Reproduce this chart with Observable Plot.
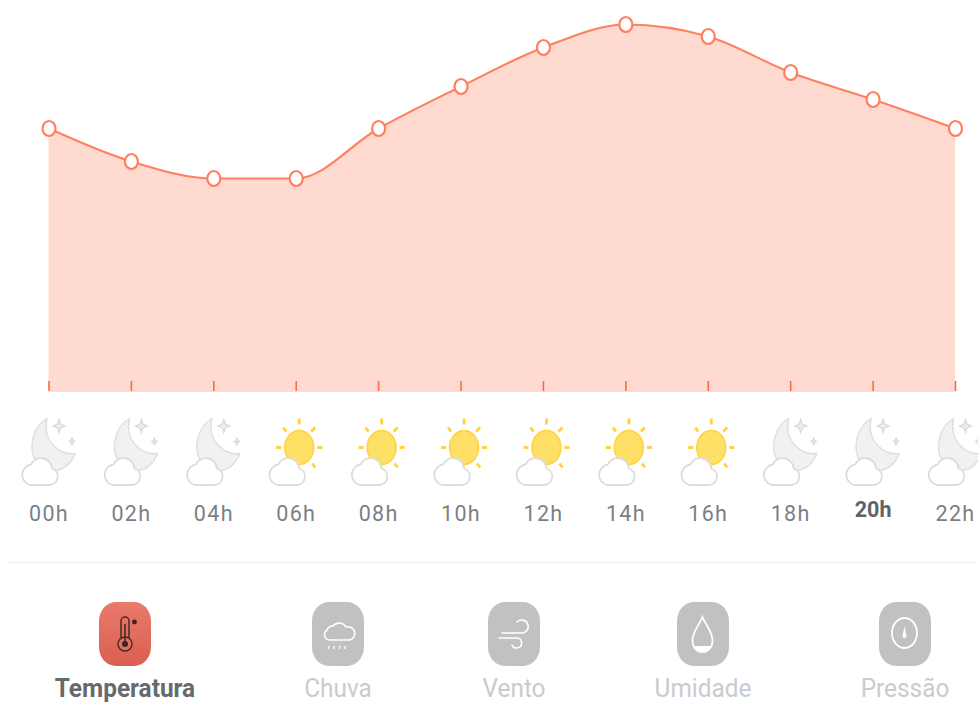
<!DOCTYPE html>
<html><head><meta charset="utf-8">
<script src="https://cdn.jsdelivr.net/npm/d3@7"></script>
<script src="https://cdn.jsdelivr.net/npm/@observablehq/plot@0.6"></script>
<style>
html,body{margin:0;padding:0;background:#fff;overflow:hidden;width:978px;height:703px}
#chart{position:absolute;left:0;top:0}
#chart svg{display:block;overflow:hidden}
#chart g[font-weight="400"] text{letter-spacing:1.3px}
#sep{position:absolute;left:8px;right:0;top:562px;height:1px;background:#eeeeee}
.tab{position:absolute;top:602px;width:52px;height:64px;border-radius:17px / 19px;background:#c0c1c3}
.tab.on{background:linear-gradient(#e97a6c,#db5f50)}
.tab svg{display:block}
.lab{position:absolute;top:676.5px;height:24px;width:240px;text-align:center;font:400 24.4px/24px Roboto,sans-serif;color:#c8ccd0;transform:scaleY(1.07);transform-origin:50% 100%}
.lab.on{font-weight:700;color:#666a6e}
</style></head><body>
<div id="chart"></div><div id="sep"></div><div id="tabs"></div>
<script>
const hours = [0,2,4,6,8,10,12,14,16,18,20,22];
const hourLabels = ["00h","02h","04h","06h","08h","10h","12h","14h","16h","18h","20h","22h"];
const temperature = [264,231,214,214,264,306,345,368,356,320,293,264];
const sky = ["moon","moon","moon","sun","sun","sun","sun","sun","sun","moon","moon","moon"];
const activeHour = 20;
const tabNames = ["Temperatura","Chuva","Vento","Umidade","Pressão"];
const tabCenters = [125,338,514,703,905];

const cloud = `<path d="M-19 484.500 H1 A8.500 8.500 0 0 0 3 468 A11 11 0 0 0 -18 464 A10.500 10.500 0 0 0 -19 484.500 Z" fill="#fff" stroke="#dcdcdc" stroke-width="1.800" stroke-linejoin="round"/>`;
const moonIcon = `<svg xmlns="http://www.w3.org/2000/svg" width="60" height="75" viewBox="-30 415 60 75">
<path d="M-2 418 C-13 424 -17 437 -17 447 C-17 459 -8 470 5 470 C15 470 23 462 26 453 C12 455 -7 442 -2 418 Z" fill="#f1f1f2" stroke="#dedede" stroke-width="1.400" stroke-linejoin="round"/>
<path d="M10 419 L11.500 423.500 L16 425.500 L11.500 427.500 L10 432 L8.500 427.500 L4 425.500 L8.500 423.500 Z" fill="#eeeeee" stroke="#d8d8d8" stroke-width="1.200"/>
<path d="M23 437 L24 440 L26.500 441 L24 442 L23 445 L22 442 L19.500 441 L22 440 Z" fill="#e2e2e2" stroke="#d8d8d8"/>
${cloud}</svg>`;
const rays = [[3,418,3,424],[-13,427,-10,431],[19,427,15,431],[-20,447,-15,447],[26,447,21,447],[16,463,19,467]]
  .map(([a,b,c,d]) => `<line x1="${a}" y1="${b}" x2="${c}" y2="${d}"/>`).join("");
const sunIcon = `<svg xmlns="http://www.w3.org/2000/svg" width="60" height="75" viewBox="-30 415 60 75">
<g stroke="#ffd23f" stroke-width="2.800">${rays}</g>
<ellipse cx="3" cy="447" rx="14.500" ry="17" fill="#ffe067" stroke="#ffd23f" stroke-width="1.500"/>
${cloud}</svg>`;
const uri = s => "data:image/svg+xml;charset=utf-8," + encodeURIComponent(s);

const tallDot = {draw(ctx, size){
  const r = Math.sqrt(size/Math.PI), rx = r*0.93, ry = r*1.07, k = 0.5523;
  ctx.moveTo(rx,0);
  ctx.bezierCurveTo(rx,ry*k,rx*k,ry,0,ry);
  ctx.bezierCurveTo(-rx*k,ry,-rx,ry*k,-rx,0);
  ctx.bezierCurveTo(-rx,-ry*k,-rx*k,-ry,0,-ry);
  ctx.bezierCurveTo(rx*k,-ry,rx,-ry*k,rx,0);
  ctx.closePath();
}};

const rows = hours.map((h,i) => ({h, t: temperature[i], label: hourLabels[i], sky: sky[i]}));
const labelFont = {fontFamily:"Roboto, sans-serif", fontSize:21.5, text:"label", x:"h"};

const plot = Plot.plot({
  width: 978, height: 560,
  marginLeft: 48, marginRight: 23, marginTop: 0, marginBottom: 0,
  x: {domain:[0,22], range:[48.500,955], axis:null},
  y: {domain:[0,392], range:[392,0], axis:null},
  style: {background:"transparent", overflow:"hidden"},
  marks: [
    Plot.areaY(rows, {x:"h", y:"t", y1:0, curve:"monotone-x", fill:"#ffdad0"}),
    Plot.ruleX(rows, {x:"h", y1:1, y2:11, stroke:"#ff6a47", strokeWidth:1.6}),
    Plot.line(rows, {x:"h", y:"t", curve:"monotone-x", stroke:"#ff8060", strokeWidth:2.1}),
    Plot.dot(rows, {x:"h", y:"t", r:7, symbol:tallDot, fill:"#fff", stroke:"#ff8060", strokeWidth:2.2}),
    Plot.image(rows, {x:"h", y:()=>-60.5, width:60, height:75, src:d=>uri(d.sky==="moon"?moonIcon:sunIcon)}),
    Plot.text(rows.filter(d=>d.h!==activeHour), {...labelFont, y:()=>-121.5, fill:"#7b7f84", fontWeight:400}),
    Plot.text(rows.filter(d=>d.h===activeHour), {...labelFont, y:()=>-117.5, fill:"#5f6368", fontWeight:700})
  ]
});
document.getElementById("chart").append(plot);

const tabIcons = [
 `<rect x="22" y="15" width="8" height="24" rx="4" fill="none" stroke="#4b2b28" stroke-width="1.500"/><circle cx="26" cy="42" r="7" fill="#e5705f" stroke="#4b2b28" stroke-width="1.500"/><circle cx="26" cy="42" r="3" fill="#3d2422"/><path d="M26 22V40" stroke="#3d2422" stroke-width="1.500"/><circle cx="35.500" cy="20" r="2.400" fill="#3d2422"/>`,
 `<path d="M17 38 a5.500 5.500 0 0 1 -2 -10 a6 6 0 0 1 6 -4 a8 8 0 0 1 13 1 a6.500 6.500 0 0 1 4 13 z" fill="none" stroke="#fff" stroke-width="1.600" stroke-linejoin="round"/><path d="M17 44 l-.8 3 M22.500 44 l-.8 3 M28 44 l-.8 3 M33.500 44 l-.8 3" stroke="#fff" stroke-width="1.300"/>`,
 `<path d="M14 31 H34 a6.500 6.500 0 1 0 -5 -11 M11 36 H29 a5 5 0 1 1 -5 7" fill="none" stroke="#fff" stroke-width="1.600" stroke-linecap="round"/>`,
 `<path d="M25.500 15 C22 24 15.500 29 15.500 39 a10 11 0 0 0 20 0 C35.500 29 29 24 25.500 15 z" fill="none" stroke="#fff" stroke-width="1.800"/><path d="M16.500 44 a10 10 0 0 0 18 0 z" fill="#fff"/>`,
 `<ellipse cx="25.500" cy="31" rx="12.500" ry="15" fill="none" stroke="#fff" stroke-width="1.800"/><path d="M25.500 24 L27.500 34 a2 2 0 0 1 -4 0 z" fill="#fff"/>`
];
const tabs = document.getElementById("tabs");
tabNames.forEach((name,i) => {
  const on = i === 0 ? " on" : "";
  const t = document.createElement("div");
  t.className = "tab" + on; t.style.left = (tabCenters[i]-26) + "px";
  t.innerHTML = `<svg width="52" height="64" viewBox="0 0 52 64">${tabIcons[i]}</svg>`;
  const l = document.createElement("div");
  l.className = "lab" + on; l.style.left = (tabCenters[i]-120) + "px";
  l.textContent = name;
  tabs.append(t,l);
});
</script></body></html>
